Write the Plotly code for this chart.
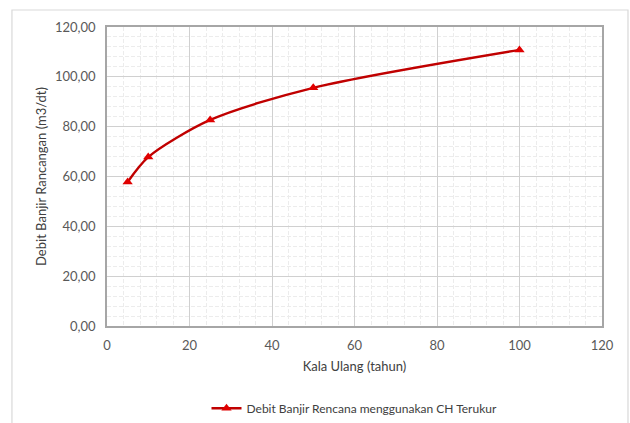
import plotly.graph_objects as go

# Return period (years) and design flood discharge (m3/s)
kala_ulang = [5, 10, 25, 50, 100]
debit = [57.8, 67.8, 82.7, 95.6, 110.8]

series_name = "Debit Banjir Rencana menggunakan CH Terukur"
x_title = "Kala Ulang (tahun)"
y_title = "Debit Banjir Rancangan (m3/dt)"

FONT = "Lato, 'Open Sans', sans-serif"
AX_COLOR = "#595959"

fig = go.Figure()
fig.add_trace(go.Scatter(
    x=kala_ulang, y=debit, name=series_name,
    mode="lines+markers",
    line=dict(color="#c00000", width=2.4, shape="spline", smoothing=0.8),
    marker=dict(symbol="triangle-up", size=9, color="#e00000"),
))

axis_common = dict(
    range=[0, 120], dtick=20, showgrid=True, gridcolor="#d0d0d0", gridwidth=1,
    showline=True, linecolor="#a6a6a6", linewidth=1.5, mirror=True,
    zeroline=False, ticks="outside", ticklen=7, tickcolor="rgba(0,0,0,0)",
    tickfont=dict(family=FONT, size=13, color=AX_COLOR),
    minor=dict(dtick=4, showgrid=True, gridcolor="#ececec", griddash="4px,2px", gridwidth=1),
)

fig.update_layout(
    width=630, height=423,
    margin=dict(l=107, r=28, t=27, b=97, autoexpand=False),
    paper_bgcolor="white", plot_bgcolor="white",
    separators=",.",
    showlegend=True,
    legend=dict(orientation="h", x=0.5, xanchor="center",
                yref="container", y=0.035, yanchor="middle",
                font=dict(family=FONT, size=12, color="#404040")),
    xaxis=dict(**axis_common,
               title=dict(text=x_title, standoff=10,
                          font=dict(family=FONT, size=13, color="#404040"))),
    yaxis=dict(**axis_common, tickformat=".2f",
               title=dict(text=y_title, standoff=5,
                          font=dict(family=FONT, size=13, color="#404040"))),
)

# Chart-area frame around plot, axes and legend
fig.add_shape(type="rect", xref="paper", yref="paper",
              x0=-0.192, x1=1.0525, y0=-0.4, y1=1.0569,
              line=dict(color="#d9d9d9", width=1.2), layer="below")

fig.write_html("out.html")
